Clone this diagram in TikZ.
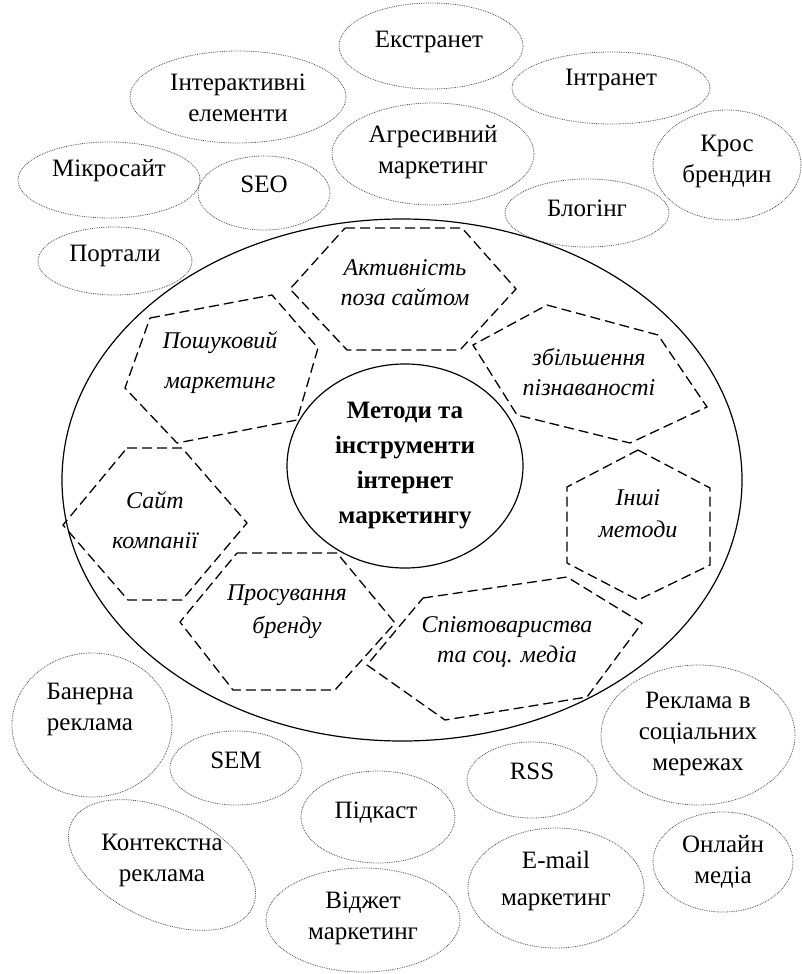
\documentclass[tikz,border=0pt]{standalone}
\usepackage{fontspec}
\setmainfont{Liberation Serif}
\usetikzlibrary{shapes.geometric}

\begin{document}
\begin{tikzpicture}[x=1pt,y=-1pt]
    \tikzstyle{every node}=[font=\fontsize{25}{31}\selectfont, align=center, inner sep=0pt];
    \tikzstyle{tool}=[draw=black!70, densely dotted, line width=0.8pt];
    \tikzstyle{hexa}=[draw, dash pattern=on 10pt off 5pt, line width=1.3pt];
    \tikzstyle{method}=[font=\fontsize{24}{30}\selectfont\itshape];

    \useasboundingbox (0,0) rectangle (801,974);

    % main field and centre
    \path[draw, line width=1.2pt] (402,480) ellipse [x radius=340, y radius=261];
    \path (405,466) node[draw, line width=1.2pt, shape=ellipse, minimum width=236pt, minimum height=204pt,
        font=\fontsize{25}{35}\selectfont\bfseries] (centre) {Методи та\\інструменти\\інтернет\\маркетингу};

    % methods
    \path[hexa] (345,228) -- (462,228) -- (516,289) -- (460,350) -- (347,350) -- (290,289) -- cycle;
    \path (405,283) node[method] (h1) {Активність\\поза сайтом};
    \path[hexa] (150,318) -- (272,295) -- (318,348) -- (297,420) -- (177,443) -- (125,388) -- cycle;
    \path (220,363) node[method] (h2) {Пошуковий\\[10pt]маркетинг};
    \path[hexa] (127,448) -- (182,448) -- (247,523) -- (182,600) -- (128,600) -- (63,525) -- cycle;
    \path (155,520) node[method] (h3) {Сайт\\[10pt]компанії};
    \path[hexa] (237,553) -- (337,553) -- (395,623) -- (335,690) -- (233,690) -- (180,622) -- cycle;
    \path (287,612) node[method] (h4) {Просування\\[3pt]бренду};
    \path[hexa] (547,305) -- (658,335) -- (707,407) -- (630,443) -- (517,415) -- (473,345) -- cycle;
    \path (589,372) node[method] (h5) {збільшення\\пізнаваності};
    \path[hexa] (638,450) -- (710,488) -- (710,565) -- (638,600) -- (567,563) -- (567,487) -- cycle;
    \path (638,514) node[method] (h6) {Інші\\[2pt]методи};
    \path[hexa] (423,598) -- (567,577) -- (642,623) -- (587,697) -- (445,720) -- (367,665) -- cycle;
    \path (507,642) node[method] (h7) {Співтовариства\\та соц. медіа};

    % tools above
    \path[tool] (431,46) ellipse [x radius=92, y radius=43];
    \path (429,42) node (ekstr) {Екстранет};
    \path[tool] (238,97) ellipse [x radius=108, y radius=46];
    \path (238,98) node (inter) {Інтерактивні\\елементи};
    \path[tool] (611,88) ellipse [x radius=99, y radius=36];
    \path (611,80) node (intra) {Інтранет};
    \path[tool] (433,154) ellipse [x radius=101, y radius=51];
    \path (433,152) node (agres) {Агресивний\\маркетинг};
    \path[tool] (109,180) ellipse [x radius=91, y radius=38];
    \path (109,171) node (mikro) {Мікросайт};
    \path[tool] (264,193) ellipse [x radius=66, y radius=37];
    \path (264,184) node (seo) {SEO};
    \path[tool] (115,261) ellipse [x radius=77, y radius=34];
    \path (115,256) node (port) {Портали};
    \path[tool] (587,213) ellipse [x radius=82, y radius=34];
    \path (587,208) node (blog) {Блогінг};
    \path[tool] (727,165) ellipse [x radius=74, y radius=55];
    \path (727,161) node (kros) {Крос\\брендин};

    % tools below
    \path[tool] (92,725) ellipse [x radius=80, y radius=72];
    \path (90,709) node (baner) {Банерна\\реклама};
    \path[tool] (236,768) ellipse [x radius=66, y radius=37];
    \path (236,760) node (sem) {SEM};
    \path[tool, rotate around={-25:(162,865)}] (162,865) ellipse [x radius=100, y radius=55];
    \path (162,860) node (kont) {Контекстна\\реклама};
    \path[tool] (378,817) ellipse [x radius=77, y radius=46];
    \path (376,813) node (pidk) {Підкаст};
    \path[tool] (363,920) ellipse [x radius=97, y radius=52];
    \path (363,918) node (vidzh) {Віджет\\маркетинг};
    \path[tool] (532,780) ellipse [x radius=65, y radius=38];
    \path (532,771) node (rss) {RSS};
    \path[tool] (698,735) ellipse [x radius=97, y radius=70];
    \path (698,734) node (soc) {Реклама в\\соціальних\\мережах};
    \path[tool] (556,888) ellipse [x radius=88, y radius=60];
    \path (556,881) node (email) {E-mail\\[6pt]маркетинг};
    \path[tool] (723,862) ellipse [x radius=70, y radius=50];
    \path (723,862) node (onl) {Онлайн\\медіа};
\end{tikzpicture}
\end{document}
